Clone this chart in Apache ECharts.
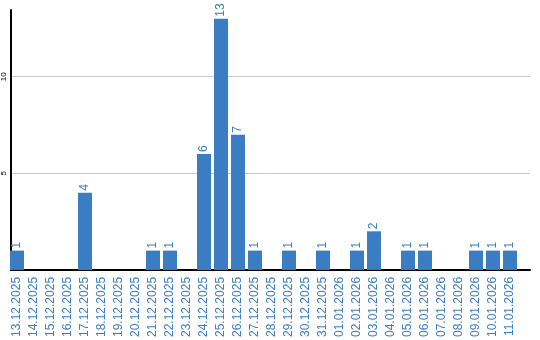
<!DOCTYPE html>
<html>
<head>
<meta charset="utf-8">
<script src="https://cdn.jsdelivr.net/npm/echarts@6/dist/echarts.min.js"></script>
<style>html,body{margin:0;padding:0;background:#fff;}#c{width:540px;height:340px;}</style>
</head>
<body>
<div id="c"></div>
<script>
const categories = ['13.12.2025','14.12.2025','15.12.2025','16.12.2025','17.12.2025','18.12.2025','19.12.2025','20.12.2025','21.12.2025','22.12.2025','23.12.2025','24.12.2025','25.12.2025','26.12.2025','27.12.2025','28.12.2025','29.12.2025','30.12.2025','31.12.2025','01.01.2026','02.01.2026','03.01.2026','04.01.2026','05.01.2026','06.01.2026','07.01.2026','08.01.2026','09.01.2026','10.01.2026','11.01.2026'];
const values = [1,0,0,0,4,0,0,0,1,1,0,6,13,7,1,0,1,0,1,0,1,2,0,1,1,0,0,1,1,1];
const yTicks = [5, 10];

const blue = '#3a7dc2';
const font = 'Liberation Sans, Arial, sans-serif';
const yMax = 13.45;

const chart = echarts.init(document.getElementById('c'), null, {renderer: 'canvas'});
chart.setOption({
  animation: false,
  grid: [
    {left: 10, right: 10, top: 10, bottom: 70},
    {left: 8.5, right: 21.5, top: 10, bottom: 70}
  ],
  xAxis: [
    {gridIndex: 0, type: 'value', min: 0, max: 1,
     axisLine: {show: true, lineStyle: {color: '#000', width: 2}},
     axisTick: {show: false}, axisLabel: {show: false}, splitLine: {show: false}},
    {gridIndex: 1, type: 'category', data: categories,
     axisLine: {show: false}, axisTick: {show: false},
     axisLabel: {interval: 0, rotate: 90, color: blue, fontFamily: font, fontSize: 12, margin: 7}}
  ],
  yAxis: [
    {gridIndex: 0, type: 'value', min: 0, max: yMax, interval: 5,
     axisLine: {show: true, lineStyle: {color: '#000', width: 2}},
     axisTick: {show: false},
     axisLabel: {rotate: 90, color: '#000', fontFamily: font, fontSize: 8, margin: 3,
       formatter: v => yTicks.includes(v) ? String(v) : ''},
     splitLine: {show: true, showMinLine: false, showMaxLine: false, lineStyle: {color: '#c8c8c8', width: 1}}},
    {gridIndex: 1, type: 'value', min: 0, max: yMax, show: false}
  ],
  series: [{
    type: 'bar', xAxisIndex: 1, yAxisIndex: 1,
    data: values.map(v => v === 0 ? null : v),
    barWidth: 14,
    itemStyle: {color: blue},
    label: {show: true, position: 'top', rotate: 90, align: 'left', verticalAlign: 'middle',
      distance: 2, color: blue, fontFamily: font, fontSize: 12}
  }]
});
</script>
</body>
</html>
